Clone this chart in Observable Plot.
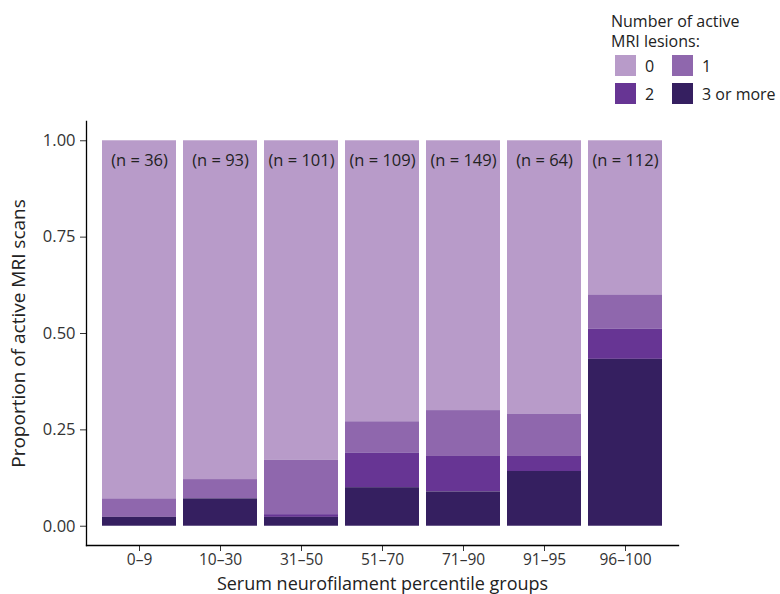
<!DOCTYPE html>
<html>
<head>
<meta charset="utf-8">
<script src="https://cdn.jsdelivr.net/npm/d3@7"></script>
<script src="https://cdn.jsdelivr.net/npm/@observablehq/plot@0.6"></script>
<style>
  html, body { margin: 0; padding: 0; background: #fff; }
  body { font-family: "Open Sans", sans-serif; }
  #wrap { position: relative; width: 780px; height: 594px; }
  #legend { position: absolute; left: 611px; top: 11px; font-size: 16px; color: #222; }
  #legend .title { line-height: 20px; }
  #legend .grid { margin-top: 4px; margin-left: 4px; display: grid; grid-template-columns: 57px auto; row-gap: 7px; }
  #legend .item { display: flex; align-items: center; height: 21px; }
  #legend .sw { width: 21px; height: 21px; margin-right: 9px; }
  #chart { position: absolute; left: 0; top: 110px; }
</style>
</head>
<body>
<div id="wrap">
  <div id="legend"></div>
  <div id="chart"></div>
</div>
<script>
const groups = ["0–9", "10–30", "31–50", "51–70", "71–90", "91–95", "96–100"];
const nScans = [36, 93, 101, 109, 149, 64, 112];
const lesionCats = ["0", "1", "2", "3 or more"];
const p0 = [0.929, 0.879, 0.829, 0.729, 0.700, 0.709, 0.400];
const p1 = [0.048, 0.050, 0.141, 0.081, 0.119, 0.110, 0.089];
const p2 = [0.000, 0.000, 0.007, 0.090, 0.092, 0.039, 0.078];
const p3 = [0.023, 0.071, 0.023, 0.100, 0.089, 0.142, 0.433];
const colors = ["#b89bc9", "#8f67ad", "#673594", "#351f60"];
const yTicks = [0, 0.25, 0.5, 0.75, 1];

const series = [p0, p1, p2, p3];
const data = [];
groups.forEach((g, i) => {
  lesionCats.forEach((c, j) => data.push({group: g, lesions: c, value: series[j][i]}));
});
const nData = groups.map((g, i) => ({group: g, label: `(n = ${nScans[i]})`}));

// legend
const legend = document.getElementById("legend");
legend.innerHTML = `<div class="title">Number of active<br>MRI lesions:</div><div class="grid">` +
  lesionCats.map((c, i) => `<div class="item"><div class="sw" style="background:${colors[i]}"></div><span>${c}</span></div>`).join("") +
  `</div>`;

const chart = Plot.plot({
  width: 780,
  height: 484,
  marginTop: 11,
  marginBottom: 49,
  marginLeft: 86,
  marginRight: 102,
  style: {fontFamily: "Open Sans", background: "#fff"},
  x: {domain: groups, paddingInner: 0.09, paddingOuter: 0.175},
  y: {domain: [-0.05, 1.05]},
  color: {domain: lesionCats, range: colors},
  marks: [
    Plot.barY(data, Plot.stackY({x: "group", y: "value", fill: "lesions", order: ["3 or more", "2", "1", "0"]})),
    Plot.text(nData, {x: "group", y: () => 1, dy: 20, text: "label", fontSize: 16.5, fill: "#222", lineAnchor: "middle"}),
    Plot.axisY({ticks: yTicks, tickFormat: d3.format(".2f"), tickSize: 6, tickPadding: 5, fontSize: 16.5, label: null, color: "#333"}),
    Plot.axisX({tickSize: 6, tickPadding: 2, fontSize: 15.5, label: null, color: "#333"}),
    Plot.frame({anchor: "left", stroke: "#000", strokeWidth: 1.3}),
    Plot.frame({anchor: "bottom", stroke: "#000", strokeWidth: 1.3}),
    Plot.text(["Proportion of active MRI scans"], {frameAnchor: "left", rotate: -90, dx: -68, textAnchor: "middle", lineAnchor: "middle", fontSize: 19, fill: "#222"}),
    Plot.text(["Serum neurofilament percentile groups"], {frameAnchor: "bottom", dy: 38.5, fontSize: 18, fill: "#222", lineAnchor: "middle"})
  ]
});
document.getElementById("chart").appendChild(chart);
</script>
</body>
</html>
